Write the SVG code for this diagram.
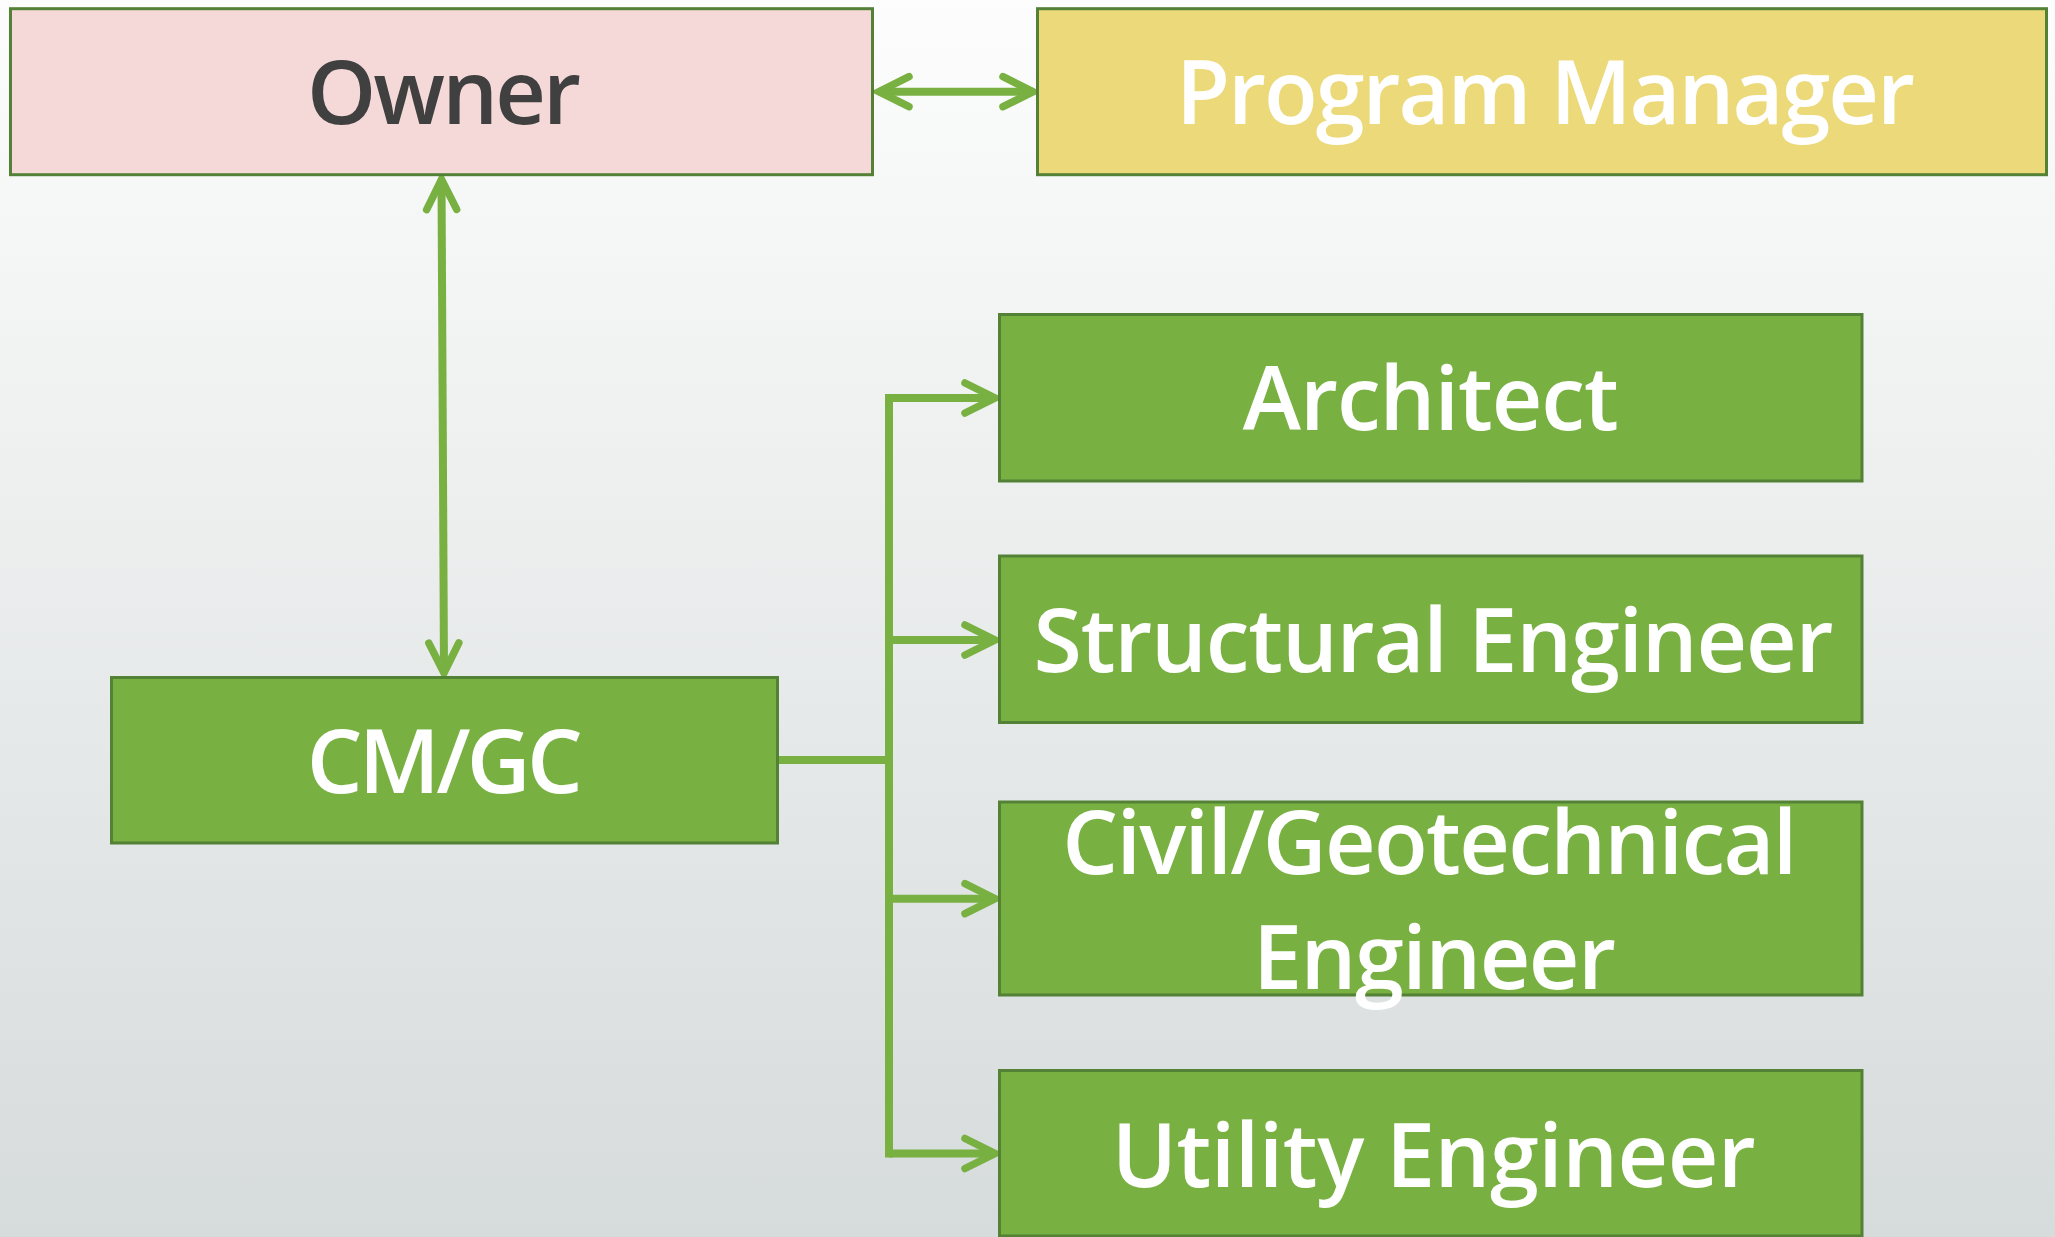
<svg xmlns="http://www.w3.org/2000/svg" width="2055" height="1237" viewBox="0 0 2055 1237">
  <style>
    .box { stroke: #538135; stroke-width: 3; }
    .green { fill: #78b042; }
    .owner { fill: #f5d9d9; }
    .pm { fill: #ecd97a; }
    .lbl { font-family: "Open Sans", "Noto Sans", "Liberation Sans", sans-serif; font-weight: 600; font-size: 88px; fill: #ffffff; text-anchor: middle; }
    .dark { fill: #404040; }
    .conn { fill: none; stroke: #78b042; stroke-width: 8; }
  </style>
  <defs>
    <linearGradient id="bg" x1="0" y1="0" x2="0" y2="1">
      <stop offset="0" stop-color="#fcfdfc"/>
      <stop offset="1" stop-color="#d6dbdb"/>
    </linearGradient>
    <!-- open chevron arrowhead with rounded arm ends -->
    <marker id="chev" markerUnits="userSpaceOnUse" viewBox="-40 -22 48 44" markerWidth="48" markerHeight="44" refX="0" refY="0" orient="auto-start-reverse">
      <path d="M-30,-15 L0,0 L-30,15" fill="none" stroke="#78b042" stroke-width="7.5" stroke-linecap="round" stroke-linejoin="miter"/>
    </marker>
  </defs>

  <rect x="0" y="0" width="2055" height="1237" fill="url(#bg)"/>

  <!-- connectors -->
  <g id="connectors">
    <line class="conn" x1="879" y1="91.7" x2="1033" y2="91.7" marker-start="url(#chev)" marker-end="url(#chev)"/>
    <line class="conn" x1="441.5" y1="179.5" x2="444" y2="673" marker-start="url(#chev)" marker-end="url(#chev)"/>
    <path class="conn" d="M778,760 H889"/>
    <path class="conn" d="M889,398 V1153.5" stroke-linecap="square"/>
    <line class="conn" x1="889" y1="398" x2="995" y2="398" marker-end="url(#chev)"/>
    <line class="conn" x1="889" y1="640" x2="995" y2="640" marker-end="url(#chev)"/>
    <line class="conn" x1="889" y1="898.7" x2="995" y2="898.7" marker-end="url(#chev)"/>
    <line class="conn" x1="889" y1="1153.5" x2="995" y2="1153.5" marker-end="url(#chev)"/>
  </g>

  <!-- nodes -->
  <g id="owner">
    <rect class="box owner" x="10.5" y="8.7" width="862" height="166"/>
    <text class="lbl dark" x="444" y="124" textLength="274" lengthAdjust="spacing">Owner</text>
  </g>
  <g id="program-manager">
    <rect class="box pm" x="1037.5" y="8.7" width="1009" height="166"/>
    <text class="lbl" x="1545.5" y="124" textLength="739" lengthAdjust="spacing">Program Manager</text>
  </g>
  <g id="cm-gc">
    <rect class="box green" x="111.5" y="677.5" width="666" height="165.5"/>
    <text class="lbl" x="444.8" y="793" textLength="276" lengthAdjust="spacing">CM/GC</text>
  </g>
  <g id="architect">
    <rect class="box green" x="999.5" y="314.5" width="862.5" height="166.5"/>
    <text class="lbl" x="1430.8" y="430" textLength="376" lengthAdjust="spacing">Architect</text>
  </g>
  <g id="structural-engineer">
    <rect class="box green" x="999.5" y="556" width="862.5" height="166.5"/>
    <text class="lbl" x="1433.5" y="672" textLength="800" lengthAdjust="spacing">Structural Engineer</text>
  </g>
  <g id="civil-geotechnical-engineer">
    <rect class="box green" x="999.5" y="802" width="862.5" height="193"/>
    <text class="lbl" x="1429.8" y="874" textLength="735" lengthAdjust="spacing">Civil/Geotechnical</text>
    <text class="lbl" x="1434.5" y="989" textLength="363" lengthAdjust="spacing">Engineer</text>
  </g>
  <g id="utility-engineer">
    <rect class="box green" x="999.5" y="1070.5" width="862.5" height="165.5"/>
    <text class="lbl" x="1433.8" y="1187" textLength="644" lengthAdjust="spacing">Utility Engineer</text>
  </g>
</svg>
